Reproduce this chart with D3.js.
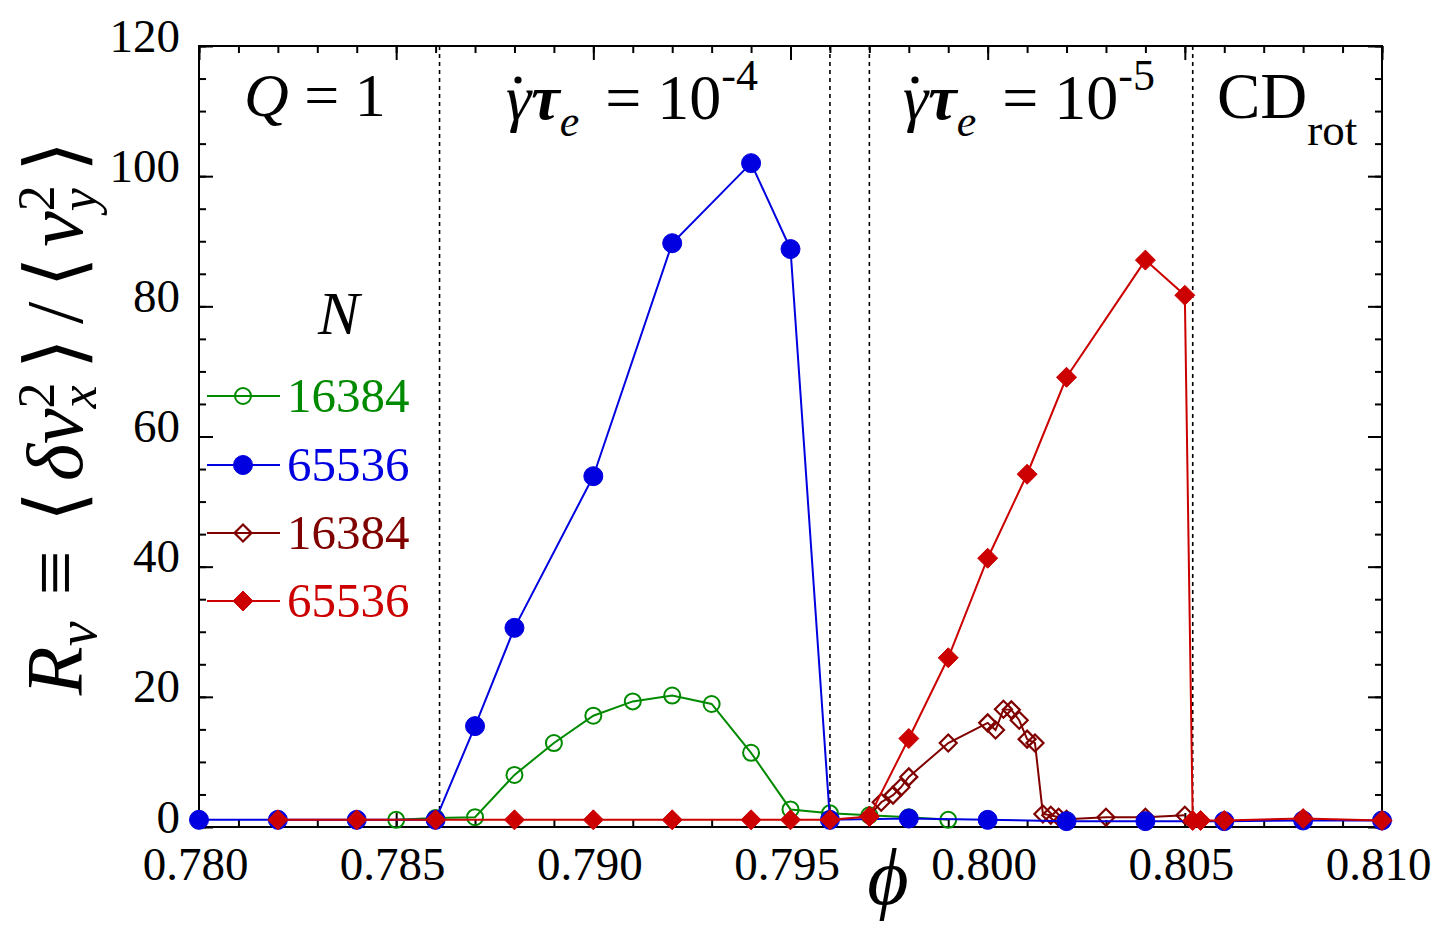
<!DOCTYPE html>
<html>
<head>
<meta charset="utf-8">
<script src="https://cdn.jsdelivr.net/npm/d3@7"></script>
<style>
  body { margin: 0; background: #fff; }
  text { font-family: "Liberation Serif", "DejaVu Serif", serif; }
</style>
</head>
<body>
<script>
const W = 1437, H = 935;

// gamma_dot tau_e = 1e-4
const phiG16 = [0.785, 0.786, 0.787, 0.788, 0.789, 0.790, 0.791, 0.792, 0.793, 0.794, 0.795, 0.796, 0.797, 0.798, 0.799];
const rG16 = [1.1, 1.4, 1.5, 8.0, 12.9, 17.1, 19.3, 20.2, 18.9, 11.4, 2.7, 2.1, 1.8, 1.5, 1.1];

const phiB65 = [0.780, 0.782, 0.784, 0.786, 0.787, 0.788, 0.790, 0.792, 0.794, 0.795, 0.796, 0.798, 0.800, 0.802, 0.804, 0.806, 0.808, 0.810];
const rB65 = [1.1, 1.1, 1.1, 1.1, 15.5, 30.6, 53.9, 89.7, 102.0, 88.8, 1.1, 1.3, 1.1, 0.9, 0.9, 0.9, 1.0, 1.0];

// gamma_dot tau_e = 1e-5
const phiR16 = [0.797, 0.7973, 0.7976, 0.7978, 0.7980, 0.7990, 0.8000, 0.8002, 0.8004, 0.8006, 0.8008, 0.8010, 0.8012, 0.8014, 0.8016, 0.8018, 0.8020, 0.8030, 0.8040, 0.8050];
const rR16 = [1.7, 3.8, 4.9, 6.1, 7.7, 12.9, 16.0, 14.9, 18.1, 18.0, 16.4, 13.5, 12.9, 2.0, 1.8, 1.5, 1.2, 1.5, 1.5, 1.8];

const phiR65 = [0.782, 0.784, 0.786, 0.788, 0.790, 0.792, 0.794, 0.795, 0.796, 0.797, 0.798, 0.799, 0.800, 0.801, 0.802, 0.804, 0.805, 0.8052, 0.8054, 0.806, 0.808, 0.810];
const rR65 = [1.1, 1.1, 1.1, 1.1, 1.1, 1.1, 1.1, 1.1, 1.1, 1.6, 13.6, 26.0, 41.3, 54.2, 69.1, 87.1, 81.7, 1.0, 1.0, 1.0, 1.3, 1.0];

// dotted separators between regimes
const boundaries = [0.7861, 0.7960, 0.7970, 0.8052];

const xTicks = [0.780, 0.785, 0.790, 0.795, 0.800, 0.805, 0.810];
const yTicks = [0, 20, 40, 60, 80, 100, 120];
const legendLabels = ["16384", "65536", "16384", "65536"];

const x = d3.scaleLinear().domain([0.780, 0.810]).range([199, 1382]);
const y = d3.scaleLinear().domain([0, 120]).range([827, 46]);

const series = [
  { phi: phiG16, r: rG16, color: "#008a00", shape: "circle", fill: false },
  { phi: phiR16, r: rR16, color: "#800000", shape: "diamond", fill: false },
  { phi: phiB65, r: rB65, color: "#0000e0", shape: "circle", fill: true },
  { phi: phiR65, r: rR65, color: "#cc0000", shape: "diamond", fill: true },
];
const legendOrder = [series[0], series[2], series[1], series[3]];

const svg = d3.select("body").append("svg")
  .attr("width", W).attr("height", H)
  .style("display", "block");

svg.append("rect").attr("width", W).attr("height", H).attr("fill", "#fff");

// minor / major ticks on all four sides
const xMinor = d3.range(0, 31).map(i => 0.780 + i * 0.001);
const yMinor = d3.range(0, 25).map(i => i * 5);

function frameAxis(axis, transform, labels) {
  const g = svg.append("g").attr("transform", transform).call(axis);
  g.select(".domain").remove();
  g.selectAll("line").attr("stroke", "#000").attr("stroke-width", 2);
  if (!labels) g.selectAll("text").remove();
  return g;
}

const plotH = 827 - 46, plotW = 1382 - 199;
frameAxis(d3.axisBottom(x).tickValues(xMinor).tickSize(-7).tickFormat(""), "translate(0,827)");
frameAxis(d3.axisTop(x).tickValues(xMinor).tickSize(-7).tickFormat(""), "translate(0,46)");
frameAxis(d3.axisLeft(y).tickValues(yMinor).tickSize(-7).tickFormat(""), "translate(199,0)");
frameAxis(d3.axisRight(y).tickValues(yMinor).tickSize(-7).tickFormat(""), "translate(1382,0)");
frameAxis(d3.axisTop(x).tickValues(xTicks).tickSize(-14).tickFormat(""), "translate(0,46)");
frameAxis(d3.axisRight(y).tickValues(yTicks).tickSize(-14).tickFormat(""), "translate(1382,0)");

const xa = frameAxis(d3.axisBottom(x).tickValues(xTicks).tickSize(-14).tickPadding(20).tickFormat(d3.format(".3f")), "translate(0,827)", true);
xa.selectAll("text").attr("font-size", 47).attr("font-family", "Liberation Serif").attr("fill", "#000").attr("dx", -4);

const ya = frameAxis(d3.axisLeft(y).tickValues(yTicks).tickSize(-14).tickPadding(19).tickFormat(d3.format("d")), "translate(199,0)", true);
ya.selectAll("text").attr("font-size", 47).attr("font-family", "Liberation Serif").attr("fill", "#000").attr("y", -10);

svg.append("rect")
  .attr("x", 199).attr("y", 46).attr("width", plotW).attr("height", plotH)
  .attr("fill", "none").attr("stroke", "#000").attr("stroke-width", 2);

// dotted regime boundaries
svg.selectAll(".bound").data(boundaries).enter().append("line")
  .attr("x1", d => x(d)).attr("x2", d => x(d))
  .attr("y1", 46).attr("y2", 827)
  .attr("stroke", "#000").attr("stroke-width", 1.6)
  .attr("stroke-dasharray", "4,4");

const line = d3.line().x(d => x(d[0])).y(d => y(d[1]));

function marker(g, s, cx, cy) {
  if (s.shape === "circle") {
    g.append("circle").attr("cx", cx).attr("cy", cy)
      .attr("r", s.fill ? 9.5 : 8)
      .attr("fill", s.fill ? s.color : "#fff")
      .attr("fill-opacity", s.fill ? 1 : 0)
      .attr("stroke", s.color).attr("stroke-width", s.fill ? 1 : 2);
  } else {
    const h = s.fill ? 10 : 8.5;
    g.append("path")
      .attr("d", `M${cx},${cy - h}L${cx + h},${cy}L${cx},${cy + h}L${cx - h},${cy}Z`)
      .attr("fill", s.fill ? s.color : "none")
      .attr("stroke", s.color).attr("stroke-width", s.fill ? 1 : 2.2);
  }
}

series.forEach(s => {
  const pts = s.phi.map((p, i) => [p, s.r[i]]);
  const g = svg.append("g");
  g.append("path").attr("d", line(pts))
    .attr("fill", "none").attr("stroke", s.color).attr("stroke-width", 2);
  pts.forEach(p => marker(g, s, x(p[0]), y(p[1])));
});

// legend
svg.append("text").attr("x", 318).attr("y", 334)
  .attr("font-size", 62).attr("font-style", "italic").text("N");

const legendY = [396, 465, 533, 601];
legendOrder.forEach((s, i) => {
  const g = svg.append("g");
  g.append("line").attr("x1", 207).attr("x2", 280)
    .attr("y1", legendY[i]).attr("y2", legendY[i])
    .attr("stroke", s.color).attr("stroke-width", 2);
  marker(g, s, 243, legendY[i]);
  g.append("text").attr("x", 287).attr("y", legendY[i] + 16)
    .attr("font-size", 49).attr("fill", s.color).text(legendLabels[i]);
});

// regime labels
const q = svg.append("text").attr("x", 244).attr("y", 116).attr("font-size", 62);
q.append("tspan").attr("font-style", "italic").text("Q");
q.append("tspan").text(" = 1");

function rateLabel(x0, exp) {
  // time-derivative dot over gamma
  svg.append("circle").attr("cx", x0 + 12).attr("cy", 80).attr("r", 3.6).attr("fill", "#000");
  const t = svg.append("text").attr("x", x0).attr("y", 119).attr("font-size", 64);
  t.append("tspan").attr("font-style", "italic").text("γ");
  t.append("tspan").attr("font-style", "italic").attr("font-weight", "bold").text("τ");
  t.append("tspan").attr("font-style", "italic").attr("font-size", 44).attr("dy", 17).text("e");
  t.append("tspan").attr("dx", 26).attr("dy", -17).text("= 10");
  t.append("tspan").attr("font-size", 44).attr("dy", -29).text(exp);
}
rateLabel(506, "-4");
rateLabel(903, "-5");

const cd = svg.append("text").attr("x", 1217).attr("y", 118).attr("font-size", 65);
cd.append("tspan").text("CD");
cd.append("tspan").attr("font-size", 45).attr("dy", 27).text("rot");

// axis titles
svg.append("text").attr("x", 888).attr("y", 904).attr("text-anchor", "middle")
  .attr("font-size", 80).attr("font-style", "italic").text("ϕ");

const yl = svg.append("text")
  .attr("transform", "translate(82,418) rotate(-90)")
  .attr("text-anchor", "middle").attr("font-size", 80);
yl.append("tspan").attr("font-style", "italic").text("R");
yl.append("tspan").attr("font-style", "italic").attr("font-size", 56).attr("dy", 14).text("v");
yl.append("tspan").attr("dx", 26).attr("dy", -14).text("≡");
yl.append("tspan").attr("dx", 28).text("⟨");
yl.append("tspan").attr("dx", 10).attr("font-style", "italic").text("δv");
yl.append("tspan").attr("font-size", 52).attr("dy", -28).text("2");
yl.append("tspan").attr("font-size", 52).attr("font-style", "italic").attr("dx", -26).attr("dy", 42).text("x");
yl.append("tspan").attr("dx", 16).attr("dy", -14).text("⟩");
yl.append("tspan").attr("dx", 14).text("/");
yl.append("tspan").attr("dx", 14).text("⟨");
yl.append("tspan").attr("dx", 10).attr("font-style", "italic").text("v");
yl.append("tspan").attr("font-size", 52).attr("dy", -28).text("2");
yl.append("tspan").attr("font-size", 52).attr("font-style", "italic").attr("dx", -26).attr("dy", 42).text("y");
yl.append("tspan").attr("dx", 16).attr("dy", -14).text("⟩");
</script>
</body>
</html>
